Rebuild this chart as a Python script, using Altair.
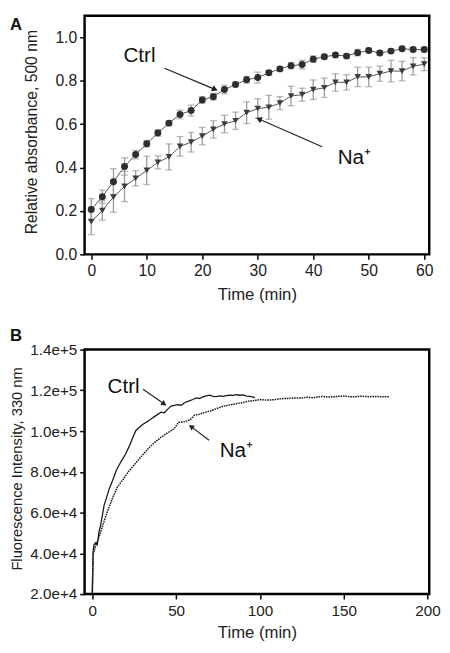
import altair as alt
import pandas as pd

# ---------------- Panel A data ----------------
time_a = [0, 2, 4, 6, 8, 10, 12, 14, 16, 18, 20, 22, 24, 26, 28, 30,
          32, 34, 36, 38, 40, 42, 44, 46, 48, 50, 52, 54, 56, 58, 60]
ctrl_a = [0.207, 0.266, 0.335, 0.405, 0.46, 0.51, 0.56, 0.605, 0.645, 0.663,
          0.712, 0.727, 0.76, 0.783, 0.805, 0.815, 0.837, 0.855, 0.87, 0.875,
          0.90, 0.911, 0.919, 0.914, 0.93, 0.94, 0.928, 0.937, 0.948, 0.944, 0.944]
ctrl_a_err = [0.05, 0.03, 0.06, 0.04, 0.02, 0.015, 0.015, 0.01, 0.02, 0.025,
              0.015, 0.015, 0.02, 0.01, 0.015, 0.025, 0.01, 0.01, 0.015, 0.02,
              0.015, 0.01, 0.01, 0.01, 0.015, 0.01, 0.01, 0.01, 0.01, 0.01, 0.01]
na_a = [0.151, 0.202, 0.264, 0.313, 0.35, 0.387, 0.424, 0.449, 0.498, 0.517,
        0.545, 0.576, 0.601, 0.616, 0.653, 0.672, 0.678, 0.697, 0.73, 0.736,
        0.759, 0.768, 0.793, 0.793, 0.818, 0.818, 0.833, 0.845, 0.845, 0.867, 0.877]
na_a_err = [0.06, 0.045, 0.07, 0.07, 0.035, 0.065, 0.03, 0.06, 0.045, 0.045,
            0.04, 0.04, 0.04, 0.04, 0.05, 0.045, 0.055, 0.03, 0.045, 0.03,
            0.045, 0.045, 0.04, 0.035, 0.045, 0.045, 0.035, 0.05, 0.045, 0.04, 0.03]

# annotations (data units) panel A
ann_a_text = ["Ctrl", "Na\u207a"]
ann_a_x = [5.8, 44.4]
ann_a_y = [0.912, 0.442]
arrow_a_x1 = [13.2, 41.6]
arrow_a_y1 = [0.858, 0.496]
arrow_a_x2 = [22.3, 30.2]
arrow_a_y2 = [0.761, 0.624]
arrow_a_ang = [23, 204]

# ---------------- Panel B data ----------------
ctrl_b_t = [0, 0.5, 1, 2, 3, 4, 5, 7, 10, 12, 14.5, 17, 20, 22, 24, 26, 28,
            30, 33.5, 36, 39, 41, 43, 45, 47, 49, 51, 53, 55, 57, 60, 62, 64,
            66, 68, 70, 72, 74, 76, 78, 80, 82, 84, 86, 88, 90, 92, 94, 96, 97]
ctrl_b_v = [20000, 41000, 44200, 45200, 44300, 50500, 53800, 63400, 71400, 75500,
            81000, 84800, 89000, 92500, 96500, 100300, 101800, 103200, 105000,
            106500, 108200, 109300, 109000, 110800, 112300, 112600, 113000,
            112700, 113900, 114600, 115500, 116300, 116000, 116800, 117300,
            117600, 117000, 116900, 117300, 117100, 117400, 117700, 117500,
            117900, 117600, 117800, 117200, 117000, 116700, 116400]

na_b_t = [0, 0.5, 1.1, 2, 4, 6.9, 9, 12.6, 15, 18.3, 22, 25.9, 30, 33.5, 37,
          41.1, 45, 48.7, 51.4, 55, 58.3, 61, 64, 67, 70.5, 74, 78, 82, 86,
          89.5, 93, 97, 100, 104, 108.6, 112, 116, 120, 124, 128, 132, 137,
          141, 145, 150, 155, 160, 165, 170, 173, 177]
na_b_v = [20000, 40000, 41000, 43800, 48000, 55400, 60500, 68200, 72600, 76200,
          80600, 84300, 88300, 91500, 94300, 97000, 99200, 101000, 104300,
          104600, 105500, 107800, 108300, 109200, 109900, 111000, 112200,
          112800, 113500, 113900, 114700, 115000, 115500, 115200, 115400,
          115900, 116000, 116300, 116200, 116600, 116400, 117000, 116700,
          116900, 117200, 116800, 117100, 116900, 117000, 116800, 116900]

ann_b_text = ["Ctrl", "Na\u207a"]
ann_b_x = [9.1, 76.0]
ann_b_y = [121400, 90200]
arrow_b_x1 = [30.3, 69.7]
arrow_b_y1 = [120500, 95500]
arrow_b_x2 = [42.9, 58.9]
arrow_b_y2 = [113300, 102200]
arrow_b_ang = [34, 216]

FONT = "Liberation Sans"

# ---------------- shared axis / scale definitions ----------------
xa_scale = alt.Scale(domain=[-1.2, 60.9], nice=False, zero=False)
ya_scale = alt.Scale(domain=[0, 1.1], nice=False)
xa_axis = alt.Axis(values=[0, 10, 20, 30, 40, 50, 60], title="Time (min)",
                   grid=False, domain=False, tickColor="black", tickSize=5,
                   tickWidth=1.5, labelFontSize=16, titleFontSize=17,
                   labelFont=FONT, titleFont=FONT, labelColor="#222",
                   titleColor="#222", titleFontWeight="normal",
                   labelPadding=4, titlePadding=8)
ya_axis = alt.Axis(values=[0, 0.2, 0.4, 0.6, 0.8, 1.0], format=".1f",
                   title="Relative absorbance, 500 nm", grid=False, domain=False,
                   tickColor="black", tickSize=5, tickWidth=1.5,
                   labelFontSize=16, titleFontSize=16, labelFont=FONT,
                   titleFont=FONT, labelColor="#222", titleColor="#222",
                   titleFontWeight="normal", labelPadding=3,
                   titleX=-46, titleY=118)

xb_scale = alt.Scale(domain=[-4.6, 201], nice=False, zero=False)
yb_scale = alt.Scale(domain=[20000, 140000], nice=False, zero=False)
xb_axis = alt.Axis(values=[0, 50, 100, 150, 200], title="Time (min)",
                   grid=False, domain=False, tickColor="black", tickSize=5,
                   tickWidth=1.5, labelFontSize=15.5, titleFontSize=17,
                   labelFont=FONT, titleFont=FONT, labelColor="#222",
                   titleColor="#222", titleFontWeight="normal",
                   labelPadding=5, titlePadding=6)
yb_axis = alt.Axis(values=[20000, 40000, 60000, 80000, 100000, 120000, 140000],
                   format=".1e", title="Fluorescence Intensity, 330 nm",
                   grid=False, domain=False, tickColor="black", tickSize=5,
                   tickWidth=1.5, labelFontSize=15.5, titleFontSize=15,
                   labelFont=FONT, titleFont=FONT, labelColor="#222",
                   titleColor="#222", titleFontWeight="normal",
                   labelPadding=3, titleX=-61, titleY=121)


def XA(f):
    return alt.X(f, scale=xa_scale, axis=xa_axis)


def YA(f):
    return alt.Y(f, scale=ya_scale, axis=ya_axis)


def XB(f):
    return alt.X(f, scale=xb_scale, axis=xb_axis)


def YB(f):
    return alt.Y(f, scale=yb_scale, axis=yb_axis)


# ---------------- build panel A ----------------
dfa_c = pd.DataFrame({"t": time_a, "v": ctrl_a, "e": ctrl_a_err, "s": "Ctrl"})
dfa_n = pd.DataFrame({"t": time_a, "v": na_a, "e": na_a_err, "s": "Na"})
dfa = pd.concat([dfa_c, dfa_n], ignore_index=True)

base_a = alt.Chart(dfa).transform_calculate(lo="datum.v - datum.e",
                                             hi="datum.v + datum.e")
err_a = base_a.mark_rule(color="#9a9a9a", strokeWidth=1.3).encode(
    x=XA("t:Q"), y=YA("lo:Q"), y2="hi:Q")
cap_lo = base_a.mark_tick(color="#9a9a9a", orient="horizontal", size=7,
                          thickness=1.3).encode(x=XA("t:Q"), y=YA("lo:Q"))
cap_hi = base_a.mark_tick(color="#9a9a9a", orient="horizontal", size=7,
                          thickness=1.3).encode(x=XA("t:Q"), y=YA("hi:Q"))
line_a = alt.Chart(dfa).mark_line(color="#555555", strokeWidth=1).encode(
    x=XA("t:Q"), y=YA("v:Q"), detail="s:N")
pts_c = alt.Chart(dfa_c).mark_point(shape="circle", filled=True, opacity=1,
                                    color="#2e2e2e", size=50).encode(
    x=XA("t:Q"), y=YA("v:Q"))
pts_n = alt.Chart(dfa_n).mark_point(shape="triangle-down", filled=True, opacity=1,
                                    color="#3c3c3c", size=45).encode(
    x=XA("t:Q"), y=YA("v:Q"))

arr_a = pd.DataFrame({"x1": arrow_a_x1, "y1": arrow_a_y1, "x2": arrow_a_x2,
                      "y2": arrow_a_y2, "ang": arrow_a_ang})
arr_line_a = alt.Chart(arr_a).mark_rule(color="#222", strokeWidth=1.3).encode(
    x=XA("x1:Q"), y=YA("y1:Q"), x2="x2:Q", y2="y2:Q")
arr_head_a = alt.Chart(arr_a).mark_point(shape="triangle-right", filled=True,
                                         opacity=1, color="#222", size=45).encode(
    x=XA("x2:Q"), y=YA("y2:Q"), angle=alt.Angle("ang:Q", scale=None))
ann_a = pd.DataFrame({"x": ann_a_x, "y": ann_a_y, "txt": ann_a_text})
txt_a = alt.Chart(ann_a).mark_text(font=FONT, fontSize=21, align="left",
                                   baseline="middle", color="#111").encode(
    x=XA("x:Q"), y=YA("y:Q"), text="txt:N")
letter_a = alt.Chart(pd.DataFrame({"l": ["A"]})).mark_text(
    font=FONT, fontSize=17, fontWeight="bold", align="left", baseline="top",
    color="#111").encode(x=alt.value(-76), y=alt.value(1), text="l:N")

panel_a = alt.layer(err_a, cap_lo, cap_hi, line_a, pts_c, pts_n, arr_line_a,
                    arr_head_a, txt_a, letter_a).properties(width=351, height=243)

# ---------------- build panel B ----------------
dfb_c = pd.DataFrame({"tb": ctrl_b_t, "vb": ctrl_b_v})
dfb_n = pd.DataFrame({"tb": na_b_t, "vb": na_b_v})
line_bc = alt.Chart(dfb_c).mark_line(color="#1a1a1a", strokeWidth=1.3).encode(
    x=XB("tb:Q"), y=YB("vb:Q"))
line_bn = alt.Chart(dfb_n).mark_line(color="#1a1a1a", strokeWidth=1.5,
                                     strokeDash=[1.6, 0.9]).encode(
    x=XB("tb:Q"), y=YB("vb:Q"))
arr_b = pd.DataFrame({"x1": arrow_b_x1, "y1": arrow_b_y1, "x2": arrow_b_x2,
                      "y2": arrow_b_y2, "ang": arrow_b_ang})
arr_line_b = alt.Chart(arr_b).mark_rule(color="#222", strokeWidth=1.2).encode(
    x=XB("x1:Q"), y=YB("y1:Q"), x2="x2:Q", y2="y2:Q")
arr_head_b = alt.Chart(arr_b).mark_point(shape="triangle-right", filled=True,
                                         opacity=1, color="#222", size=38).encode(
    x=XB("x2:Q"), y=YB("y2:Q"), angle=alt.Angle("ang:Q", scale=None))
ann_b = pd.DataFrame({"x": ann_b_x, "y": ann_b_y, "txt": ann_b_text})
txt_b = alt.Chart(ann_b).mark_text(font=FONT, fontSize=21, align="left",
                                   baseline="middle", color="#111").encode(
    x=XB("x:Q"), y=YB("y:Q"), text="txt:N")
letter_b = alt.Chart(pd.DataFrame({"l": ["B"]})).mark_text(
    font=FONT, fontSize=17, fontWeight="bold", align="left", baseline="alphabetic",
    color="#111").encode(x=alt.value(-76), y=alt.value(-9), text="l:N")

panel_b = alt.layer(line_bc, line_bn, arr_line_b, arr_head_b, txt_b,
                    letter_b).properties(width=351, height=249)

chart = alt.vconcat(panel_a, panel_b, spacing=97, bounds="flush").properties(
    padding=0, background="white"
).configure_view(stroke="black", strokeWidth=2.5)

chart.save("out.html", embed_options={"renderer": "svg", "actions": False})
